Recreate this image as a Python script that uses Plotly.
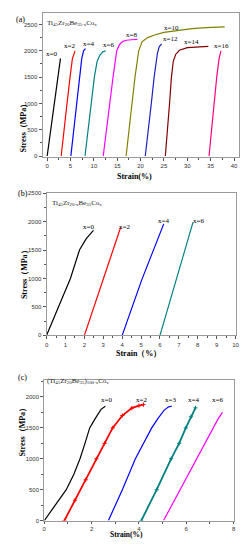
import plotly.graph_objects as go

W, H = 250, 550

# ---------------- Panel (a) data: Ti45Zr20Be35-xCox ----------------
a_labels = ["x=0", "x=2", "x=4", "x=6", "x=8", "x=10", "x=12", "x=14", "x=16"]
a_colors = ["#000000", "#ff0000", "#0000ff", "#008080", "#ff00ff", "#808000", "#2020c0", "#800000", "#ff0080"]
a_strain = [
    [0, 0.6, 1.2, 1.8, 2.3, 2.6, 2.85],
    [3.0, 3.7, 4.25, 4.9, 5.4, 5.97],
    [5.07, 5.7, 6.3, 6.95, 7.4, 7.8, 8.2],
    [8.1, 8.8, 9.45, 10.1, 10.7, 11.3, 11.9, 12.55],
    [12.0, 12.65, 13.3, 14.1, 14.9, 15.5, 16.2, 17.0, 18.0, 19.3],
    [16.9, 17.5, 18.1, 18.8, 19.6, 20.3, 21.5, 23, 25, 28, 31, 34, 36, 38],
    [21.0, 21.7, 22.3, 22.9, 23.6, 24.0, 24.5],
    [25.3, 25.8, 26.2, 26.6, 27.0, 27.5, 28.3, 30.0, 32.0, 34.5],
    [34.65, 35.2, 35.7, 36.3, 36.8, 37.2],
]
a_stress = [
    [0, 400, 800, 1200, 1550, 1750, 1855],
    [0, 500, 1000, 1500, 1850, 1995],
    [0, 500, 1000, 1500, 1850, 2000, 2040],
    [0, 500, 1000, 1500, 1800, 1920, 1980, 2000],
    [0, 500, 1000, 1500, 2000, 2120, 2180, 2200, 2210, 2215],
    [0, 500, 1000, 1500, 2000, 2170, 2250, 2300, 2350, 2390, 2420, 2440, 2445, 2455],
    [0, 500, 1000, 1500, 1950, 2080, 2130],
    [0, 500, 1000, 1500, 1800, 1930, 2010, 2060, 2075, 2085],
    [0, 500, 1000, 1500, 1850, 2000],
]
a_lab_x = [1.0, 4.7, 8.75, 13.05, 18.0, 26.6, 26.3, 30.8, 37.4]
a_lab_y = [1936, 2093, 2124, 2112, 2300, 2437, 2218, 2168, 2093]

# ---------------- Panel (b) data: Ti45Zr20-xBe35Cox ----------------
b_labels = ["x=0", "x=2", "x=4", "x=6"]
b_colors = ["#000000", "#ff0000", "#0000ff", "#008080"]
b_strain = [
    [0, 0.65, 1.26, 1.74, 2.1, 2.48],
    [2.0, 2.5, 3.0, 3.5, 3.92],
    [4.0, 5.04, 6.2],
    [6.0, 6.87, 7.75],
]
b_stress = [
    [0, 500, 1000, 1500, 1700, 1845],
    [0, 490, 980, 1460, 1900],
    [0, 980, 1960],
    [0, 995, 1990],
]
b_lab_x = [2.2, 4.1, 6.2, 8.05]
b_lab_y = [1900, 1914, 2019, 2019]

# ---------------- Panel (c) data: (Ti45Zr20Be35)100-xCox ----------------
c_labels = ["x=0", "x=2", "x=3", "x=4", "x=6"]
c_colors = ["#000000", "#ff0000", "#0000ff", "#008080", "#ff00ff"]
c_markers = [False, True, False, True, False]
c_strain = [
    [0, 0.45, 0.93, 1.25, 1.51, 1.72, 1.92, 2.15, 2.4, 2.58],
    [0.85, 1.3, 1.75, 2.2, 2.55, 2.89, 3.3, 3.7, 4.0, 4.19],
    [2.71, 3.3, 3.85, 4.2, 4.54, 4.8, 5.05, 5.25, 5.39],
    [4.1, 4.75, 5.36, 5.7, 5.98, 6.2, 6.39],
    [5.04, 5.75, 6.46, 6.8, 7.15, 7.35, 7.53],
]
c_stress = [
    [0, 250, 500, 750, 1000, 1250, 1500, 1650, 1800, 1850],
    [0, 330, 660, 1000, 1250, 1500, 1700, 1820, 1860, 1877],
    [0, 500, 1000, 1250, 1500, 1650, 1780, 1840, 1850],
    [0, 500, 1000, 1250, 1500, 1680, 1824],
    [0, 500, 1000, 1250, 1500, 1650, 1750],
]
c_lab_x = [2.61, 4.1, 5.33, 6.32, 7.31]
c_lab_y = [1952, 1952, 1952, 1952, 1952]

SERIF = "Liberation Serif"
SANS = "Liberation Sans"


def px(x):
    return x / W


def py(y):
    return 1 - y / H


fig = go.Figure()

panels = [
    ("x", "y", a_strain, a_stress, a_colors, None, a_labels, a_lab_x, a_lab_y),
    ("x2", "y2", b_strain, b_stress, b_colors, None, b_labels, b_lab_x, b_lab_y),
    ("x3", "y3", c_strain, c_stress, c_colors, c_markers, c_labels, c_lab_x, c_lab_y),
]

annotations = []
for xa, ya, xs, ys, cols, marks, labs, lx, ly in panels:
    for i in range(len(xs)):
        use_m = marks is not None and marks[i]
        fig.add_trace(go.Scatter(
            x=xs[i], y=ys[i], xaxis=xa, yaxis=ya,
            mode="lines+markers" if use_m else "lines",
            line=dict(color=cols[i], width=1.8 if use_m else 1.2),
            marker=dict(size=3, color=cols[i], symbol="cross-thin",
                        line=dict(color=cols[i], width=1)),
            showlegend=False, hoverinfo="skip",
        ))
        annotations.append(dict(
            x=lx[i], y=ly[i], xref=xa, yref=ya, text=labs[i], showarrow=False,
            borderpad=0, font=dict(family=SERIF, size=7, color="#000"),
        ))

axis_common = dict(
    showgrid=False, zeroline=False, showline=True, linecolor="#9a9a9a", linewidth=1,
    mirror=True, ticks="outside", ticklen=3, tickcolor="#555", tickwidth=1,
    tickfont=dict(family=SANS, size=6, color="#333"),
)

fig.update_layout(
    width=W, height=H,
    margin=dict(l=0, r=0, t=0, b=0),
    paper_bgcolor="white", plot_bgcolor="white",
    xaxis=dict(axis_common, domain=[px(41.5), px(242.5)], range=[-1, 41], anchor="y",
               dtick=5, tick0=0, minor=dict(ticks="outside", ticklen=2, dtick=2.5, tickcolor="#555")),
    yaxis=dict(axis_common, domain=[py(155.5), py(10)], range=[-15, 2720], anchor="x",
               dtick=500, tick0=0, minor=dict(ticks="outside", ticklen=2, dtick=250, tickcolor="#555")),
    xaxis2=dict(axis_common, domain=[px(45.7), px(239.3)], range=[0, 10], anchor="y2",
                dtick=1, tick0=0, minor=dict(ticks="outside", ticklen=2, dtick=0.5, tickcolor="#555")),
    yaxis2=dict(axis_common, domain=[py(336), py(192.3)], range=[0, 2500], anchor="x2",
                dtick=500, tick0=0, minor=dict(ticks="outside", ticklen=2, dtick=250, tickcolor="#555")),
    xaxis3=dict(axis_common, domain=[px(43.3), px(237.3)], range=[0, 8], anchor="y3",
                dtick=2, tick0=0, ticklen=2,
                minor=dict(ticks="outside", ticklen=2, dtick=1, tickcolor="#555")),
    yaxis3=dict(axis_common, domain=[py(523.3), py(380.7)], range=[0, 2282], anchor="x3",
                dtick=500, tick0=0, minor=dict(ticks="outside", ticklen=2, dtick=250, tickcolor="#555")),
)

for txt, x, y in [("(a)", 13, 11), ("(b)", 15, 193), ("(c)", 15, 384)]:
    annotations.append(dict(x=px(x), y=py(y), xref="paper", yref="paper", text=txt,
                            showarrow=False, borderpad=0,
                            font=dict(family=SERIF, size=8, color="#000")))

for txt, x, y in [
    ("Ti<sub>45</sub>Zr<sub>20</sub>Be<sub>35-x</sub>Co<sub>x</sub>", 45, 15),
    ("Ti<sub>45</sub>Zr<sub>20-x</sub>Be<sub>35</sub>Co<sub>x</sub>", 50, 202),
    ("(Ti<sub>45</sub>Zr<sub>20</sub>Be<sub>35</sub>)<sub>100-x</sub>Co<sub>x</sub>", 45, 387),
]:
    annotations.append(dict(x=px(x), y=py(y), xref="paper", yref="paper", text=txt,
                            xanchor="left", showarrow=False, borderpad=0,
                            font=dict(family=SERIF, size=7, color="#222")))

for txt, x, y in [("Stress（MPa）", 16, 97), ("Stress（MPa）", 17, 273), ("Stress（MPa）", 15, 460)]:
    annotations.append(dict(x=px(x), y=py(y), xref="paper", yref="paper", text="<b>" + txt + "</b>",
                            textangle=-90, showarrow=False, borderpad=0,
                            font=dict(family=SERIF, size=8, color="#000")))
for txt, x, y, s in [("Strain(%)", 136, 169.5, 8), ("Strain（%）", 140, 354, 8), ("Strain(%)", 128, 543, 7.5)]:
    annotations.append(dict(x=px(x), y=py(y), xref="paper", yref="paper", text="<b>" + txt + "</b>",
                            showarrow=False, borderpad=0,
                            font=dict(family=SERIF, size=s, color="#000")))

fig.update_layout(annotations=annotations)
fig.write_html(
    "out.html",
    config={"displayModeBar": False},
    post_script="document.body.style.margin='0';document.body.style.overflow='hidden';"
                "document.documentElement.style.overflow='hidden';",
)
